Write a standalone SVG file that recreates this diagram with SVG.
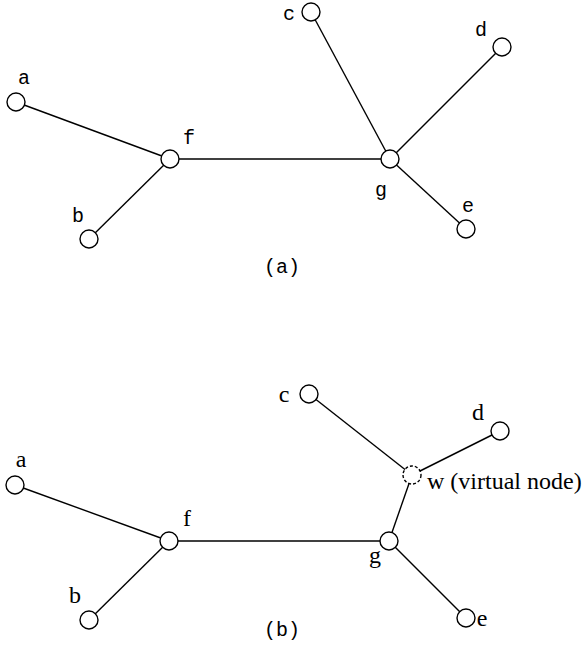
<svg xmlns="http://www.w3.org/2000/svg" width="583" height="645" viewBox="0 0 583 645">
<style>
.n{fill:#fff;stroke:#000;stroke-width:1.4}
.v{fill:#fff;stroke:#000;stroke-width:1.4;stroke-dasharray:3 2}
.e{stroke:#000;stroke-width:1.4;fill:none}
.m{font-size:20px;text-anchor:middle;fill:#000}
.s{font-size:24px;text-anchor:middle;fill:#000}
</style>
<rect width="583" height="645" fill="#fff"/>
<g id="connectors">
<line class="e" x1="16" y1="102" x2="170" y2="159"/>
<line class="e" x1="89" y1="239" x2="170" y2="159"/>
<line class="e" x1="170" y1="159" x2="390" y2="159"/>
<line class="e" x1="311" y1="12" x2="390" y2="159"/>
<line class="e" x1="502" y1="47" x2="390" y2="159"/>
<line class="e" x1="466" y1="229" x2="390" y2="159"/>
<line class="e" x1="15" y1="485" x2="169" y2="541"/>
<line class="e" x1="89" y1="620" x2="169" y2="541"/>
<line class="e" x1="169" y1="541" x2="389" y2="541"/>
<line class="e" x1="309" y1="394" x2="412" y2="475"/>
<line class="e" x1="500" y1="431" x2="412" y2="475"/>
<line class="e" x1="412" y1="475" x2="389" y2="541"/>
<line class="e" x1="466" y1="618" x2="389" y2="541"/>
</g>
<g font-family="'Liberation Mono', 'Courier New', 'DejaVu Sans Mono', monospace">
<g id="a1"><circle class="n" cx="16" cy="102" r="9"/><text class="m" x="24" y="84">a</text></g>
<g id="b1"><circle class="n" cx="89" cy="239" r="9"/><text class="m" x="78" y="222">b</text></g>
<g id="f1"><circle class="n" cx="170" cy="159" r="9"/><text class="m" x="189" y="144">f</text></g>
<g id="c1"><circle class="n" cx="311" cy="12" r="9"/><text class="m" x="289" y="20">c</text></g>
<g id="d1"><circle class="n" cx="502" cy="47" r="9"/><text class="m" x="481" y="36">d</text></g>
<g id="g1"><circle class="n" cx="390" cy="159" r="9"/><text class="m" x="381" y="196">g</text></g>
<g id="e1"><circle class="n" cx="466" cy="229" r="9"/><text class="m" x="468" y="212">e</text></g>
<text class="m" x="282" y="273">(a)</text>
<text class="m" x="282" y="636">(b)</text>
</g>
<g font-family="'Liberation Serif', 'Times New Roman', 'DejaVu Serif', serif">
<g id="a2"><circle class="n" cx="15" cy="485" r="9"/><text class="s" x="21" y="467">a</text></g>
<g id="b2"><circle class="n" cx="89" cy="620" r="9"/><text class="s" x="75" y="603">b</text></g>
<g id="f2"><circle class="n" cx="169" cy="541" r="9"/><text class="s" x="187" y="526">f</text></g>
<g id="c2"><circle class="n" cx="309" cy="394" r="9"/><text class="s" x="284" y="402">c</text></g>
<g id="d2"><circle class="n" cx="500" cy="431" r="9"/><text class="s" x="478" y="420">d</text></g>
<g id="w2"><circle class="v" cx="412" cy="475" r="9"/><text class="s" x="427" y="489" text-anchor="start" style="text-anchor:start">w (virtual node)</text></g>
<g id="g2"><circle class="n" cx="389" cy="541" r="9"/><text class="s" x="375" y="563">g</text></g>
<g id="e2"><circle class="n" cx="466" cy="618" r="9"/><text class="s" x="482" y="626">e</text></g>
</g>
</svg>
